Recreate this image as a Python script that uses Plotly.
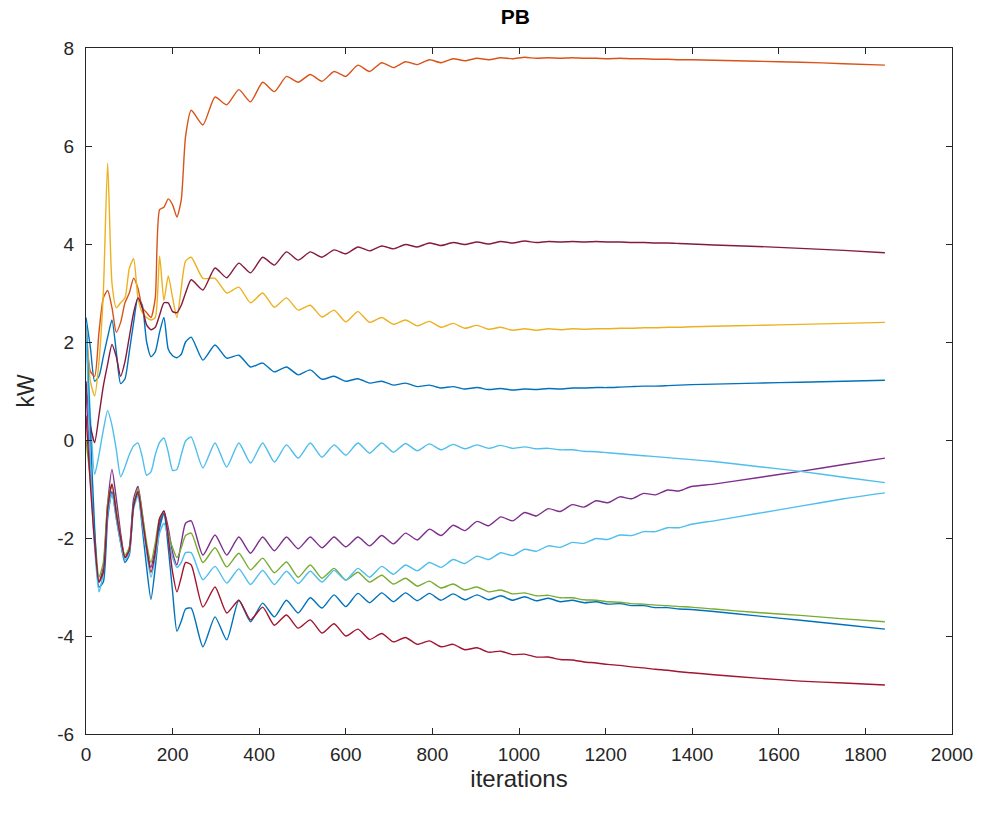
import plotly.graph_objects as go

# iteration index at which each sample was taken
iterations = [
    0, 10, 20, 30, 40, 50, 60, 70, 80, 90, 100, 110, 120, 130, 140, 150, 160, 170, 180, 190, 200, 210, 220, 230,
    243, 270, 298, 325, 353, 380, 408, 435, 463, 490, 518, 545, 573, 600, 628, 655, 683, 710, 738, 765, 793, 820,
    848, 875, 903, 930, 958, 985, 1013, 1040, 1068, 1095, 1123, 1150, 1178, 1205, 1233, 1260, 1288, 1315, 1343,
    1370, 1398,
    1450, 1550, 1650, 1750, 1845,
]

# power of each unit (kW)
p_orange = [
    2.4, 1.4, 1.3, 2.2, 2.9, 3.05, 2.7, 2.2, 2.4, 2.8, 3.0, 3.3, 3.1, 2.7, 2.6, 2.5, 2.9, 4.7, 4.75, 4.92, 4.8, 4.55, 4.9, 6.2,
    6.73, 6.43, 7.0, 6.84, 7.15, 6.9, 7.3, 7.11, 7.42, 7.3, 7.46, 7.32, 7.52, 7.42, 7.65, 7.52, 7.7, 7.6, 7.72, 7.66,
    7.76, 7.7, 7.78, 7.74, 7.79, 7.76, 7.8, 7.78, 7.81, 7.79, 7.8, 7.79, 7.8, 7.79, 7.79, 7.78, 7.79, 7.78, 7.78, 7.77,
    7.77, 7.76, 7.76,
    7.75, 7.73, 7.71, 7.68, 7.65,
]
p_maroon = [
    1.2, 0.3, -0.05, 0.5, 1.1, 1.55, 1.95, 1.7, 1.3, 1.6, 2.1, 2.6, 2.9, 2.7, 2.35, 2.25, 2.3, 2.55, 2.8, 2.8, 2.62, 2.6, 2.75, 3.0,
    3.27, 3.06, 3.51, 3.31, 3.61, 3.41, 3.73, 3.57, 3.84, 3.67, 3.84, 3.73, 3.88, 3.8, 3.94, 3.86, 3.96, 3.9, 3.99, 3.94,
    4.02, 3.97, 4.03, 3.99, 4.04, 4.0, 4.05, 4.02, 4.06, 4.03, 4.05, 4.04, 4.05, 4.04, 4.05, 4.04, 4.04, 4.03, 4.03, 4.02,
    4.02, 4.01, 4.0,
    3.98, 3.95, 3.91, 3.87, 3.82,
]
p_yellow = [
    2.4, 1.2, 0.9, 1.6, 3.0, 5.65, 3.2, 2.7, 2.8, 2.9, 3.5, 3.7, 2.9, 2.6, 2.5, 2.45, 2.5, 3.75, 2.85, 3.35, 2.9, 2.5, 3.1, 3.65,
    3.73, 3.3, 3.3, 3.0, 3.12, 2.8, 3.0, 2.71, 2.9, 2.65, 2.75, 2.51, 2.65, 2.41, 2.62, 2.4, 2.5, 2.36, 2.45, 2.33,
    2.42, 2.3, 2.38, 2.28, 2.34, 2.26, 2.3, 2.24, 2.27, 2.24, 2.27, 2.25, 2.27, 2.26, 2.27, 2.27, 2.28, 2.28, 2.29, 2.29,
    2.3, 2.3, 2.31,
    2.32, 2.34, 2.36, 2.38, 2.4,
]
p_blue_hi = [
    2.5, 1.9, 1.2, 1.3, 1.7, 2.1, 2.45, 1.8, 1.15, 1.25, 1.8, 2.4, 2.9, 2.75, 2.0, 1.7, 1.8, 2.2, 2.5, 1.85, 1.72, 1.68, 1.75, 2.0,
    2.1, 1.63, 1.94, 1.67, 1.73, 1.49, 1.57, 1.39, 1.49, 1.33, 1.43, 1.24, 1.3, 1.2, 1.25, 1.16, 1.2, 1.12, 1.16, 1.09,
    1.12, 1.06, 1.09, 1.04, 1.07, 1.03, 1.05, 1.02, 1.04, 1.03, 1.05, 1.04, 1.06, 1.06, 1.07, 1.07, 1.08, 1.09, 1.1, 1.1,
    1.11, 1.12, 1.13,
    1.14, 1.16, 1.18, 1.2, 1.22,
]
p_cyan_hi = [
    2.3, 0.5, -0.7, -0.3, 0.2, 0.6, 0.3, -0.2, -0.75, -0.55, -0.3, -0.12, -0.06, -0.35, -0.72, -0.65, -0.3, -0.05, 0.04, -0.25, -0.62, -0.6, -0.3, -0.02,
    0.06, -0.57, -0.06, -0.55, -0.06, -0.47, -0.06, -0.45, -0.1, -0.37, -0.06, -0.35, -0.1, -0.31, -0.06, -0.27, -0.06, -0.25, -0.07, -0.22,
    -0.08, -0.2, -0.09, -0.18, -0.1, -0.17, -0.11, -0.17, -0.14, -0.18, -0.17, -0.2, -0.2, -0.23, -0.24, -0.26, -0.28, -0.3, -0.32, -0.34,
    -0.36, -0.38, -0.4,
    -0.44, -0.54, -0.64, -0.76, -0.87,
]
p_purple = [
    1.0, -0.6, -2.0, -2.9, -2.6, -1.3, -0.6, -1.2, -1.9, -2.4, -2.2, -1.2, -0.95, -1.5, -2.2, -2.6, -2.2, -1.7, -1.45, -1.8, -2.3, -2.55, -2.1, -1.7,
    -1.65, -2.35, -1.94, -2.35, -1.98, -2.31, -1.98, -2.26, -1.98, -2.22, -1.98, -2.2, -1.98, -2.18, -1.98, -2.16, -1.95, -2.12, -1.9, -2.04,
    -1.82, -1.95, -1.74, -1.85, -1.66, -1.75, -1.57, -1.65, -1.48, -1.55, -1.4, -1.46, -1.32, -1.37, -1.24, -1.28, -1.16, -1.2, -1.09, -1.12,
    -1.02, -1.04, -0.95,
    -0.9, -0.77, -0.64, -0.5, -0.37,
]
p_cyan_lo = [
    2.4, -0.5, -2.2, -3.1, -2.7, -1.5, -1.1, -1.6, -2.1, -2.45, -2.3, -1.4, -1.15, -1.7, -2.3, -2.8, -2.4, -1.9, -1.7, -2.0, -2.4, -2.6, -2.5, -2.3,
    -2.3, -2.85, -2.58, -2.92, -2.63, -2.95, -2.66, -2.95, -2.68, -2.93, -2.68, -2.9, -2.66, -2.86, -2.62, -2.8, -2.58, -2.74, -2.55, -2.67,
    -2.5, -2.6, -2.44, -2.52, -2.37, -2.44, -2.3, -2.36, -2.23, -2.27, -2.16, -2.19, -2.09, -2.11, -2.01, -2.03, -1.94, -1.95, -1.87, -1.87,
    -1.79, -1.79, -1.72,
    -1.65, -1.5, -1.35, -1.2, -1.08,
]
p_green = [
    0.0, -0.8, -1.9, -2.8, -2.5, -1.3, -0.9, -1.4, -2.0, -2.35, -2.2, -1.3, -1.0, -1.5, -2.1, -2.5, -2.1, -1.6, -1.5, -1.9, -2.2, -2.4, -2.2, -1.95,
    -1.9, -2.5, -2.2, -2.59, -2.31, -2.65, -2.41, -2.71, -2.49, -2.8, -2.55, -2.82, -2.62, -2.86, -2.7, -2.9, -2.76, -2.94, -2.82, -2.98,
    -2.88, -3.02, -2.94, -3.06, -3.0, -3.1, -3.06, -3.14, -3.12, -3.18, -3.17, -3.22, -3.22, -3.26, -3.27, -3.3, -3.31, -3.34, -3.35, -3.37,
    -3.38, -3.4, -3.41,
    -3.45, -3.52, -3.58, -3.65, -3.71,
]
p_blue_lo = [
    2.4, 0.2, -1.8, -3.0, -2.9, -1.6, -1.05, -1.6, -2.1, -2.5, -2.35, -1.3, -1.1, -1.8, -2.6, -3.25, -2.6, -1.8, -1.5, -2.2, -3.1, -3.9, -3.7, -3.45,
    -3.43, -4.22, -3.61, -4.08, -3.27, -3.71, -3.33, -3.61, -3.27, -3.53, -3.22, -3.43, -3.16, -3.4, -3.13, -3.32, -3.12, -3.3, -3.12, -3.28,
    -3.13, -3.27, -3.14, -3.26, -3.16, -3.26, -3.18, -3.27, -3.2, -3.28, -3.23, -3.3, -3.27, -3.32, -3.3, -3.35, -3.34, -3.38, -3.38, -3.42,
    -3.42, -3.45, -3.46,
    -3.5, -3.59, -3.68, -3.77, -3.86,
]
p_red = [
    0.5, -0.9, -2.1, -2.9, -2.7, -1.4, -0.9, -1.5, -2.0, -2.4, -2.25, -1.35, -1.05, -1.6, -2.2, -2.7, -2.3, -1.6, -1.45, -2.0, -2.7, -3.1, -2.8, -2.5,
    -2.55, -3.41, -3.0, -3.53, -3.27, -3.67, -3.41, -3.78, -3.57, -3.84, -3.67, -3.94, -3.75, -4.0, -3.86, -4.07, -3.95, -4.12, -4.03, -4.17,
    -4.1, -4.22, -4.17, -4.28, -4.24, -4.33, -4.31, -4.38, -4.37, -4.43, -4.43, -4.48, -4.49, -4.53, -4.55, -4.58, -4.6, -4.63, -4.65, -4.68,
    -4.7, -4.73, -4.75,
    -4.79, -4.86, -4.92, -4.96, -5.0,
]

x_ticks = [0, 200, 400, 600, 800, 1000, 1200, 1400, 1600, 1800, 2000]
y_ticks = [-6, -4, -2, 0, 2, 4, 6, 8]

series = [
    (p_blue_hi, "#0072BD"),
    (p_orange, "#D95319"),
    (p_yellow, "#EDB120"),
    (p_purple, "#7E2F8E"),
    (p_green, "#77AC30"),
    (p_cyan_hi, "#4DBEEE"),
    (p_maroon, "#861A3C"),
    (p_blue_lo, "#0072BD"),
    (p_cyan_lo, "#4DBEEE"),
    (p_red, "#A2142F"),
]

FONT = "Liberation Sans, Arial, Helvetica, sans-serif"

fig = go.Figure()
for values, color in series:
    assert len(values) == len(iterations)
    fig.add_trace(go.Scatter(
        x=iterations, y=values, mode="lines",
        line=dict(color=color, width=1.4, shape="spline", smoothing=0.6),
        showlegend=False, hoverinfo="skip",
    ))

axis_common = dict(
    showgrid=False, zeroline=False, showline=True, linecolor="#262626", linewidth=1,
    mirror="ticks", ticks="inside", ticklen=6, tickcolor="#262626",
    tickfont=dict(family=FONT, size=19, color="#262626"),
)

fig.update_layout(
    width=990, height=823,
    margin=dict(l=86, r=38, t=48, b=89),
    paper_bgcolor="white", plot_bgcolor="white",
    title=dict(text="<b>PB</b>", x=0.5205, xanchor="center", y=1 - 17 / 823, yanchor="middle",
               font=dict(family=FONT, size=21, color="#000000")),
    xaxis=dict(range=[0, 2000], tickvals=x_ticks, ticktext=[str(v) for v in x_ticks],
               ticklabelstandoff=3, **axis_common,
               title=dict(text="iterations", standoff=6,
                          font=dict(family=FONT, size=24, color="#262626"))),
    yaxis=dict(range=[-6, 8], tickvals=y_ticks, ticktext=[str(v) for v in y_ticks],
               ticklabelstandoff=7, **axis_common,
               title=dict(text="kW", standoff=16,
                          font=dict(family=FONT, size=23, color="#262626"))),
)

fig.write_html("out.html")
